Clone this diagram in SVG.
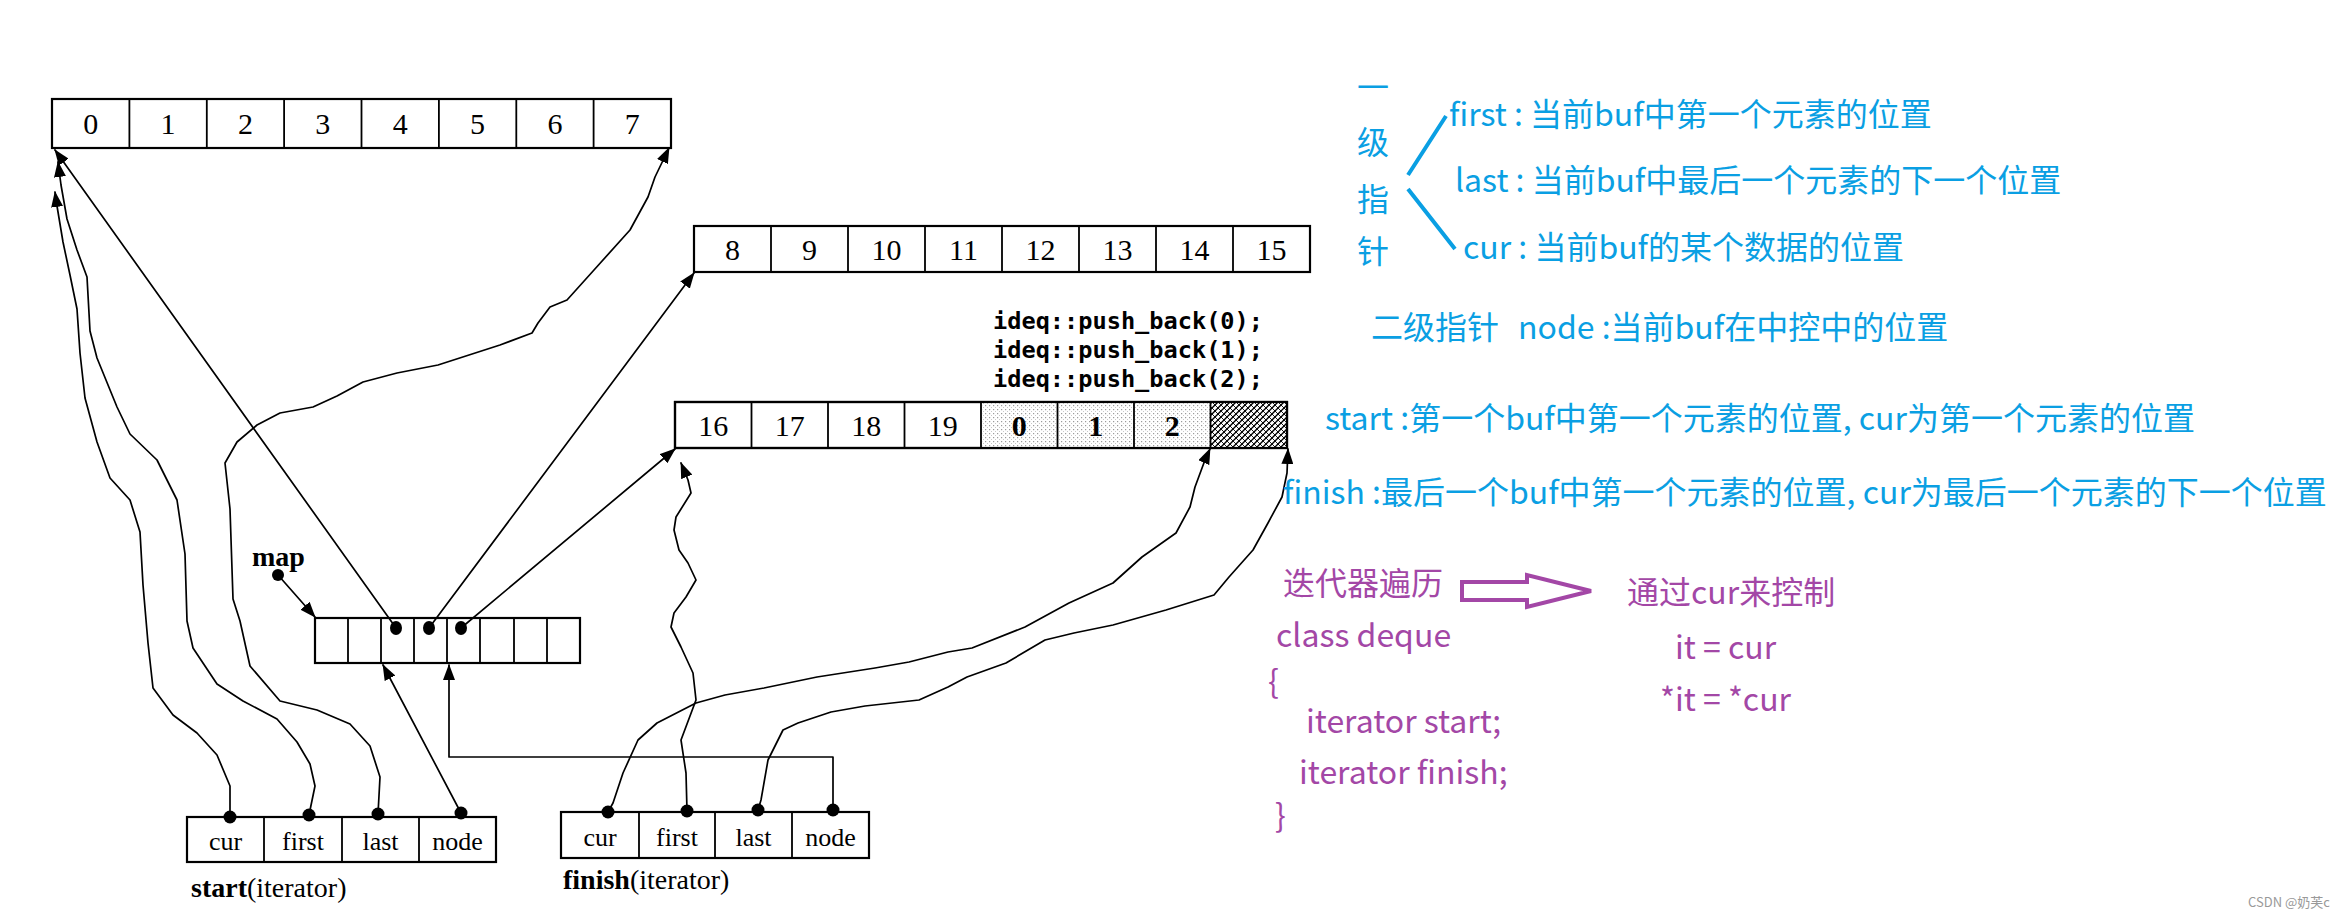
<svg xmlns="http://www.w3.org/2000/svg" width="2342" height="918" viewBox="0 0 2342 918">
<style>
.box{fill:#fff;stroke:#000;stroke-width:2.2}
.div{stroke:#000;stroke-width:1.8}
.num{font-family:"Liberation Serif",serif;font-size:30px;text-anchor:middle;fill:#000}
.lbl{font-family:"Liberation Serif",serif;font-size:26px;text-anchor:middle;fill:#000}
.cap{font-family:"Liberation Serif",serif;font-size:28px;fill:#000}
.code{font-family:"DejaVu Sans Mono",monospace;font-size:23px;font-weight:bold;fill:#000}
.conn{fill:none;stroke:#000;stroke-width:1.7;stroke-linejoin:round;stroke-linecap:round}
.arr{marker-end:url(#ah)}
.blue{font-family:"Noto Sans CJK SC","Noto Sans",sans-serif;font-size:32px;fill:#0a9fe3}
.purple{font-family:"Noto Sans CJK SC","Noto Sans",sans-serif;font-size:32px;fill:#a347a6}
</style>
<defs>
<marker id="ah" markerUnits="userSpaceOnUse" markerWidth="16" markerHeight="12" refX="15" refY="6" orient="auto"><path d="M0,0 L16,6 L0,12 z" fill="#000"/></marker>
<pattern id="dots" width="4" height="4" patternUnits="userSpaceOnUse"><rect width="4" height="4" fill="#fff"/><rect x="1" y="1" width="1.2" height="1.2" fill="#9a9a9a"/><rect x="3" y="3" width="1" height="1" fill="#c8c8c8"/></pattern>
<pattern id="hatch" width="6" height="6" patternUnits="userSpaceOnUse"><rect width="6" height="6" fill="#fff"/><path d="M0,6 L6,0 M-1,1 L1,-1 M5,7 L7,5" stroke="#000" stroke-width="1.4"/><path d="M0,0 L6,6" stroke="#000" stroke-width="0.9"/></pattern>
</defs>
<rect width="2342" height="918" fill="#fff"/>

<g id="buf0">
<rect class="box" x="52" y="99" width="619" height="49"/>
<path class="div" d="M129.4,99V148M206.8,99V148M284.1,99V148M361.5,99V148M438.9,99V148M516.3,99V148M593.6,99V148"/>
<text class="num" x="90.7" y="134">0</text><text class="num" x="168.1" y="134">1</text><text class="num" x="245.4" y="134">2</text><text class="num" x="322.8" y="134">3</text><text class="num" x="400.2" y="134">4</text><text class="num" x="477.6" y="134">5</text><text class="num" x="554.9" y="134">6</text><text class="num" x="632.3" y="134">7</text>
</g>

<g id="buf1">
<rect class="box" x="694" y="226" width="616" height="46"/>
<path class="div" d="M771,226V272M848,226V272M925,226V272M1002,226V272M1079,226V272M1156,226V272M1233,226V272"/>
<text class="num" x="732.5" y="260">8</text><text class="num" x="809.5" y="260">9</text><text class="num" x="886.5" y="260">10</text><text class="num" x="963.5" y="260">11</text><text class="num" x="1040.5" y="260">12</text><text class="num" x="1117.5" y="260">13</text><text class="num" x="1194.5" y="260">14</text><text class="num" x="1271.5" y="260">15</text>
</g>

<g id="code">
<text class="code" x="993" y="329" textLength="270" lengthAdjust="spacingAndGlyphs">ideq::push_back(0);</text>
<text class="code" x="993" y="358" textLength="270" lengthAdjust="spacingAndGlyphs">ideq::push_back(1);</text>
<text class="code" x="993" y="387" textLength="270" lengthAdjust="spacingAndGlyphs">ideq::push_back(2);</text>
</g>

<g id="buf2">
<rect class="box" x="675" y="402" width="612" height="46"/>
<rect x="982" y="403" width="229" height="44" fill="url(#dots)"/>
<rect x="1211" y="403" width="76" height="44" fill="url(#hatch)"/>
<rect x="675" y="402" width="612" height="46" fill="none" stroke="#000" stroke-width="2.2"/>
<path class="div" d="M751.5,402V448M828,402V448M904.5,402V448M981,402V448M1057.5,402V448M1134,402V448M1210.5,402V448"/>
<text class="num" x="713.3" y="436">16</text><text class="num" x="789.8" y="436">17</text><text class="num" x="866.3" y="436">18</text><text class="num" x="942.8" y="436">19</text><text class="num" x="1019.3" y="436" font-weight="bold">0</text><text class="num" x="1095.8" y="436" font-weight="bold">1</text><text class="num" x="1172.3" y="436" font-weight="bold">2</text>
</g>

<g id="map">
<text class="cap" x="252" y="566" font-weight="bold">map</text>
<circle cx="278" cy="575" r="6"/>
<rect class="box" x="315" y="618" width="265" height="45"/>
<path class="div" d="M348,618V663M381,618V663M414,618V663M447,618V663M480,618V663M514,618V663M547,618V663"/>
<ellipse cx="396" cy="628" rx="6" ry="7"/>
<ellipse cx="429" cy="628" rx="6" ry="7"/>
<ellipse cx="461" cy="628" rx="6" ry="7"/>
</g>

<g id="start">
<rect class="box" x="187" y="817" width="309" height="45"/>
<path class="div" d="M264,817V862M342,817V862M419,817V862"/>
<text class="lbl" x="225.5" y="850">cur</text><text class="lbl" x="303" y="850">first</text><text class="lbl" x="380.5" y="850">last</text><text class="lbl" x="457.5" y="850">node</text>
<circle cx="230" cy="817" r="6.5"/><circle cx="309" cy="815" r="6.5"/><circle cx="378" cy="814" r="6.5"/><circle cx="461" cy="813" r="6.5"/>
<text class="cap" x="191" y="897"><tspan font-weight="bold">start</tspan>(iterator)</text>
</g>

<g id="finish">
<rect class="box" x="561" y="812" width="308" height="46"/>
<path class="div" d="M639,812V858M715,812V858M792,812V858"/>
<text class="lbl" x="600" y="846">cur</text><text class="lbl" x="677" y="846">first</text><text class="lbl" x="753.5" y="846">last</text><text class="lbl" x="830.5" y="846">node</text>
<circle cx="608" cy="812" r="6.5"/><circle cx="687" cy="811" r="6.5"/><circle cx="758" cy="810" r="6.5"/><circle cx="833" cy="810" r="6.5"/>
<text class="cap" x="563" y="889"><tspan font-weight="bold">finish</tspan>(iterator)</text>
</g>

<g id="connectors">
<path class="conn arr" d="M278,575 L315,617"/>
<path class="conn arr" d="M396,628 L55,150"/>
<path class="conn arr" d="M429,628 L694,273"/>
<path class="conn arr" d="M461,628 L675,449"/>
<path class="conn arr" d="M461,813 L383,665"/>
<path class="conn arr" d="M833,810 V757 H449 V665"/>
<path class="conn arr" d="M230,817 L230,786 L217,755 L197,733 L173,715 L153,688 L148,643 L143,585 L140,532 L130,500 L110,478 L97,442 L85,398 L80,353 L77,309 L70,275 L63,242 L57,206 L55,192"/>
<path class="conn arr" d="M309,815 L315,786 L310,764 L297,742 L277,719 L243,701 L217,684 L193,648 L187,621 L185,554 L177,500 L157,460 L130,434 L117,407 L97,358 L90,331 L87,277 L77,250 L67,219 L61,185 L58,162"/>
<path class="conn arr" d="M378,814 L380,777 L370,746 L350,724 L317,710 L280,701 L250,666 L240,621 L233,599 L230,509 L225,463 L237,442 L257,425 L280,413 L313,407 L337,396 L363,382 L397,373 L438,365 L500,345 L532,333 L538,323 L550,307 L567,300 L594,270 L630,230 L648,197 L655,177 L669,148"/>
<path class="conn arr" d="M608,812 L613,803 L623,773 L638,740 L657,723 L696,703 L725,695 L764,688 L817,677 L875,668 L909,662 L948,652 L972,648 L1025,627 L1069,603 L1113,583 L1142,557 L1176,533 L1190,507 L1195,487 L1205,460 L1210,449"/>
<path class="conn arr" d="M687,811 L686,773 L681,740 L696,700 L693,673 L681,647 L671,627 L674,613 L686,597 L696,580 L688,563 L679,550 L674,530 L676,517 L691,493 L688,480 L681,463"/>
<path class="conn arr" d="M758,810 L761,800 L768,760 L783,730 L798,723 L831,712 L865,706 L919,700 L948,687 L967,677 L1006,663 L1045,640 L1074,633 L1113,625 L1166,610 L1214,595 L1229,577 L1253,550 L1268,523 L1282,497 L1287,473 L1288,449"/>
</g>

<g id="notes-blue">
<text class="blue" x="1373" y="99" text-anchor="middle">一</text>
<text class="blue" x="1373" y="154" text-anchor="middle">级</text>
<text class="blue" x="1373" y="211" text-anchor="middle">指</text>
<text class="blue" x="1373" y="263" text-anchor="middle">针</text>
<path d="M1446,116 L1408,175 M1408,189 L1455,249" fill="none" stroke="#0a9fe3" stroke-width="4"/>
<text class="blue" x="1449" y="126">first : 当前buf中第一个元素的位置</text>
<text class="blue" x="1455" y="192">last : 当前buf中最后一个元素的下一个位置</text>
<text class="blue" x="1463" y="259">cur : 当前buf的某个数据的位置</text>
<text class="blue" x="1371" y="339">二级指针</text>
<text class="blue" x="1518" y="339">node :当前buf在中控中的位置</text>
<text class="blue" x="1325" y="430">start :第一个buf中第一个元素的位置, cur为第一个元素的位置</text>
<text class="blue" x="1283" y="504">finish :最后一个buf中第一个元素的位置, cur为最后一个元素的下一个位置</text>
</g>

<g id="notes-purple">
<text class="purple" x="1283" y="595">迭代器遍历</text>
<polygon points="1462,582 1527,582 1527,575 1591,591 1527,607 1527,600 1462,600" fill="none" stroke="#a347a6" stroke-width="4"/>
<text class="purple" x="1627" y="604">通过cur来控制</text>
<text class="purple" x="1276" y="647">class deque</text>
<text class="purple" x="1268" y="693">{</text>
<text class="purple" x="1306" y="733">iterator start;</text>
<text class="purple" x="1299" y="784">iterator finish;</text>
<text class="purple" x="1275" y="827">}</text>
<text class="purple" x="1675" y="659">it = cur</text>
<text class="purple" x="1660" y="711">*it = *cur</text>
</g>

<text x="2248" y="907" font-family="'Noto Sans CJK SC','Noto Sans',sans-serif" font-size="13" fill="#999">CSDN @奶芙c</text>
</svg>
